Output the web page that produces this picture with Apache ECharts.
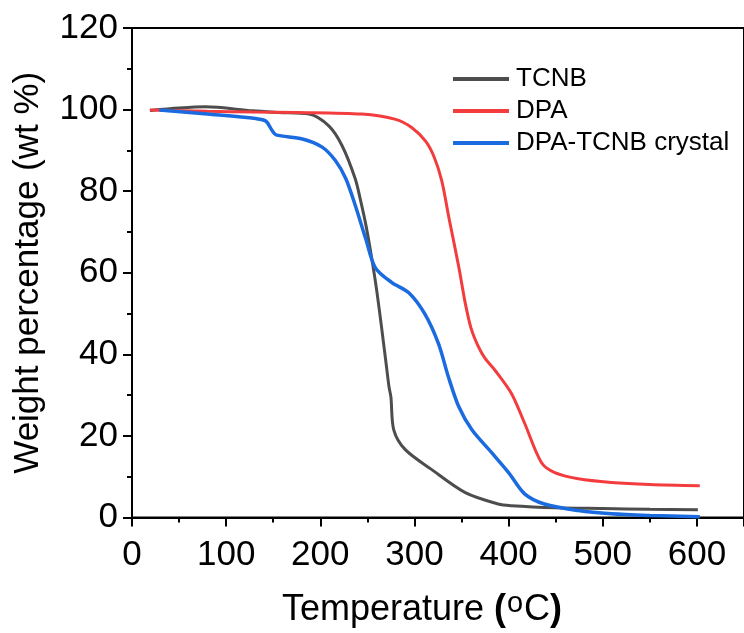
<!DOCTYPE html>
<html>
<head>
<meta charset="utf-8">
<script src="https://cdn.jsdelivr.net/npm/echarts@6/dist/echarts.min.js"></script>
<style>
html,body{margin:0;padding:0;background:#fff;}
#c{width:744px;height:633px;}
</style>
</head>
<body>
<div id="c"></div>
<script>
var seriesNames = ['TCNB', 'DPA', 'DPA-TCNB crystal'];
var tcnbData = [[19,99.8],[50,100.4],[78,100.7],[128,99.7],[156,99.3],[188,98.9],[209,96.0],[223,91.2],[237,83.1],[243,77.5],[249,71],[255,63],[260,55.5],[265.5,45.8],[270,37.5],[273,32],[275,29.5],[278,21.5],[290,16.7],[318,11.8],[354,6.1],[389,3.3],[403,2.9],[450,2.4],[500,2.2],[550,2.0],[601,1.9]];
var dpaData = [[19,99.9],[80,99.6],[130,99.4],[174,99.3],[244,98.9],[280,97.6],[297,95.6],[312,92.2],[321,88.3],[329,82.5],[337,73],[347,61.5],[354,52.5],[360,46.5],[368,41.8],[375,39],[385.5,36.1],[403,30.4],[417,23.1],[435,13.4],[449,11.0],[474,9.5],[509,8.6],[550,8.1],[603,7.8]];
var crystalData = [[29,99.9],[80,98.9],[131.5,97.8],[142,97.2],[149,94.8],[153,93.8],[181,92.8],[202,90.8],[216,87.5],[227,83.1],[237,76.6],[248,68.5],[258.5,61.2],[276,57.6],[294,55.1],[311,49.9],[325.5,42.6],[336,34.5],[347,27.2],[361,21.5],[382,15.9],[400,11],[417,5.8],[438,3.3],[474,1.7],[509,0.9],[550,0.5],[603,0.2]];
var colors = ['#4d4d4d', '#f23c3e', '#1a6ae0'];

var chart = echarts.init(document.getElementById('c'));
var font = '"Liberation Sans", Arial, sans-serif';
chart.setOption({
  animation: false,
  backgroundColor: '#fff',
  grid: {left: 132, top: 28, width: 614, height: 494, show: true, borderColor: '#000', borderWidth: 2, backgroundColor: 'transparent'},
  legend: {
    orient: 'vertical', left: 448, top: 61,
    itemWidth: 56, itemHeight: 4, itemGap: 6, icon: 'rect',
    data: seriesNames,
    textStyle: {fontFamily: font, fontSize: 26, color: '#000', padding: [0,0,0,2]}
  },
  xAxis: {
    type: 'value', min: 0, max: 650, interval: 100,
    name: '{n|Temperature }{p|(}{s|o}{n|C}{p|)}',
    nameLocation: 'middle', nameGap: 72,
    nameTextStyle: {
      fontFamily: font, color: '#000', padding: [0, 32, 0, 0],
      rich: {
        n: {fontFamily: font, fontSize: 36, color: '#000'},
        p: {fontFamily: font, fontSize: 36, fontWeight: 'bold', color: '#000'},
        s: {fontFamily: font, fontSize: 29, color: '#000', verticalAlign: 'bottom', padding: [0,1,12,1]}
      }
    },
    splitLine: {show: false},
    axisLine: {onZero: false, lineStyle: {color: '#000', width: 2}},
    axisTick: {show: true, inside: false, length: 9, lineStyle: {color: '#000', width: 2}},
    minorTick: {show: true, splitNumber: 2, length: 5, lineStyle: {color: '#000', width: 2}},
    axisLabel: {fontFamily: font, fontSize: 35, color: '#000', margin: 20, showMaxLabel: false}
  },
  yAxis: {
    type: 'value', min: 0, max: 120, interval: 20,
    name: 'Weight percentage (wt %)',
    nameLocation: 'middle', nameGap: 86,
    nameTextStyle: {fontFamily: font, fontSize: 35, color: '#000'},
    splitLine: {show: false},
    axisLine: {lineStyle: {color: '#000', width: 2}},
    axisTick: {show: true, inside: false, length: 9, lineStyle: {color: '#000', width: 2}},
    minorTick: {show: true, splitNumber: 2, length: 5, lineStyle: {color: '#000', width: 2}},
    axisLabel: {fontFamily: font, fontSize: 35, color: '#000', margin: 14}
  },
  series: [
    {name: seriesNames[0], type: 'line', data: tcnbData, showSymbol: false, smooth: 0.3, color: colors[0], lineStyle: {width: 3, color: colors[0]}},
    {name: seriesNames[1], type: 'line', data: dpaData, showSymbol: false, smooth: 0.3, color: colors[1], lineStyle: {width: 3, color: colors[1]}},
    {name: seriesNames[2], type: 'line', data: crystalData, showSymbol: false, smooth: 0.3, color: colors[2], lineStyle: {width: 3.5, color: colors[2]}}
  ]
});
</script>
</body>
</html>
